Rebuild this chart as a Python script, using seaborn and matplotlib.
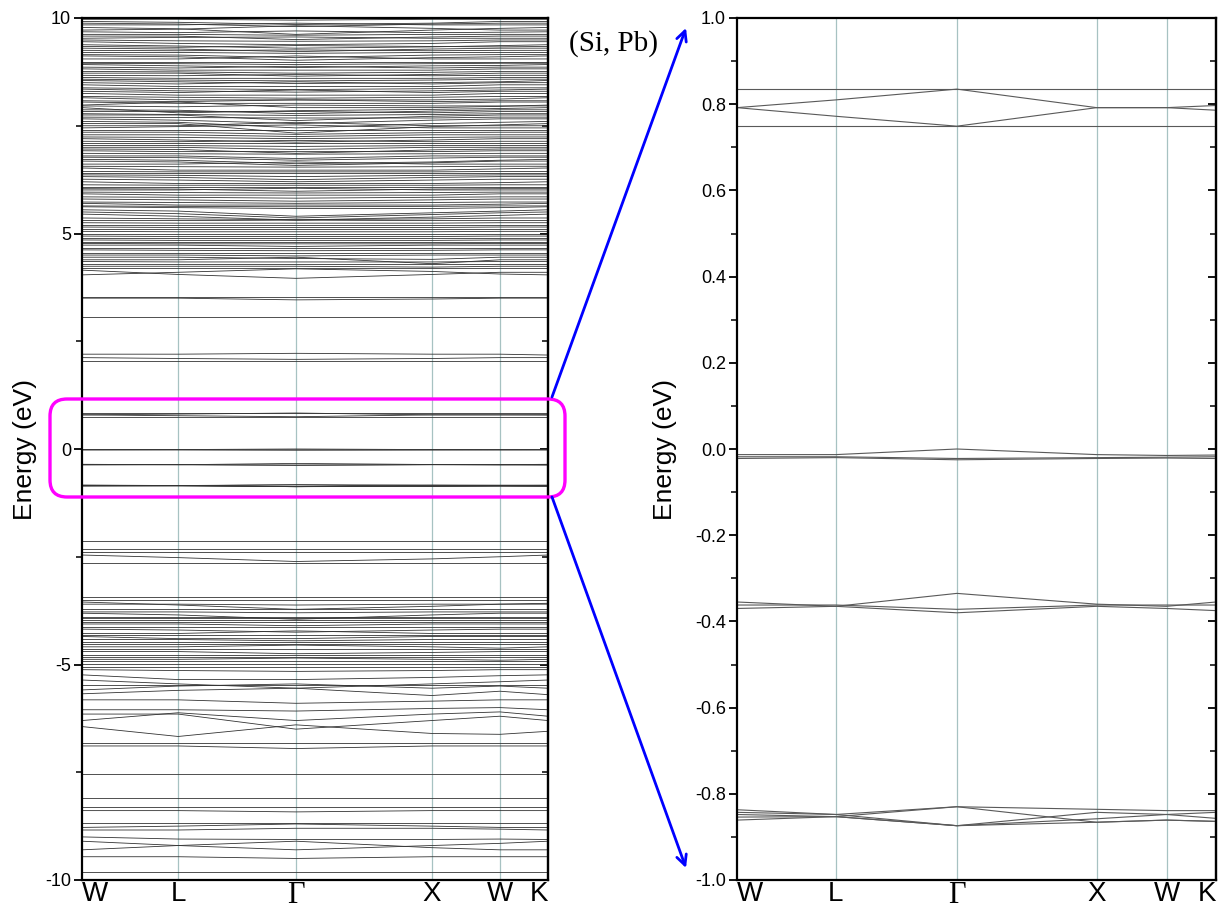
import numpy as np
import pandas as pd
import matplotlib
matplotlib.use("Agg")
import matplotlib.pyplot as plt
import seaborn as sns
from matplotlib.patches import FancyBboxPatch, FancyArrowPatch
from matplotlib.ticker import MultipleLocator

# ---------------- data ----------------
kpoint_labels = ["W", "L", "\u0393", "X", "W", "K"]
kpoint_pos = [0.0, 0.707, 1.573, 2.573, 3.073, 3.427]

# band energies (eV) at W, L, Gamma, X, W, K  -- full range panel
bands_upper = [
    [9.97, 9.97, 9.95, 9.97, 9.97, 9.97],
    [9.92, 9.90, 9.85, 9.88, 9.92, 9.92],
    [9.84, 9.84, 9.88, 9.84, 9.84, 9.84],
    [9.78, 9.75, 9.62, 9.72, 9.76, 9.78],
    [9.72, 9.74, 9.82, 9.76, 9.72, 9.72],
    [9.62, 9.62, 9.60, 9.62, 9.62, 9.62],
    [9.53, 9.55, 9.56, 9.53, 9.53, 9.53],
    [9.45, 9.41, 9.38, 9.41, 9.45, 9.45],
    [9.38, 9.35, 9.30, 9.33, 9.36, 9.38],
    [9.30, 9.28, 9.22, 9.28, 9.30, 9.30],
    [9.20, 9.20, 9.18, 9.20, 9.20, 9.20],
    [9.12, 9.10, 9.02, 9.08, 9.10, 9.12],
    [9.05, 9.05, 9.12, 9.05, 9.05, 9.05],
    [8.99, 8.99, 8.99, 8.99, 8.99, 8.99],
    [8.92, 8.89, 8.85, 8.89, 8.90, 8.92],
    [8.82, 8.79, 8.79, 8.79, 8.82, 8.82],
    [8.72, 8.72, 8.65, 8.69, 8.72, 8.72],
    [8.62, 8.60, 8.60, 8.60, 8.62, 8.62],
    [8.55, 8.52, 8.48, 8.50, 8.52, 8.55],
    [8.45, 8.41, 8.41, 8.41, 8.45, 8.45],
    [8.35, 8.31, 8.28, 8.31, 8.33, 8.35],
    [8.25, 8.21, 8.21, 8.21, 8.25, 8.25],
    [8.15, 8.10, 8.10, 8.10, 8.12, 8.15],
    [8.05, 8.02, 8.02, 8.02, 8.05, 8.05],
    [7.98, 8.05, 7.92, 7.92, 7.95, 7.98],
    [7.92, 7.80, 7.85, 7.88, 7.90, 7.92],
    [7.83, 7.83, 7.83, 7.80, 7.83, 7.83],
    [7.75, 7.75, 7.62, 7.72, 7.75, 7.75],
    [7.66, 7.63, 7.55, 7.63, 7.66, 7.66],
    [7.55, 7.55, 7.33, 7.48, 7.52, 7.55],
    [7.45, 7.48, 7.52, 7.45, 7.45, 7.45],
    [7.40, 7.40, 7.40, 7.40, 7.40, 7.40],
    [7.29, 7.29, 7.25, 7.29, 7.29, 7.29],
    [7.20, 7.17, 7.12, 7.17, 7.20, 7.20],
    [7.09, 7.09, 7.09, 7.09, 7.09, 7.09],
    [7.00, 7.00, 6.95, 7.00, 7.00, 7.00],
    [6.92, 6.90, 6.90, 6.90, 6.92, 6.92],
    [6.80, 6.80, 6.74, 6.80, 6.80, 6.80],
    [6.72, 6.70, 6.62, 6.66, 6.70, 6.72],
    [6.61, 6.61, 6.66, 6.61, 6.61, 6.61],
    [6.52, 6.47, 6.47, 6.47, 6.50, 6.52],
    [6.40, 6.40, 6.40, 6.40, 6.40, 6.40],
    [6.32, 6.30, 6.25, 6.30, 6.32, 6.32],
    [6.20, 6.16, 6.16, 6.16, 6.18, 6.20],
    [6.09, 6.09, 6.09, 6.09, 6.09, 6.09],
    [6.01, 6.01, 6.05, 6.01, 6.01, 6.01],
    [5.92, 5.89, 5.89, 5.89, 5.92, 5.92],
    [5.80, 5.78, 5.75, 5.78, 5.80, 5.80],
    [5.70, 5.66, 5.66, 5.66, 5.68, 5.70],
    [5.62, 5.60, 5.58, 5.58, 5.60, 5.62],
    [5.55, 5.52, 5.40, 5.48, 5.52, 5.55],
    [5.45, 5.40, 5.31, 5.38, 5.42, 5.45],
    [5.30, 5.30, 5.31, 5.30, 5.30, 5.30],
    [5.20, 5.20, 5.20, 5.20, 5.20, 5.20],
    [5.10, 5.10, 5.10, 5.10, 5.10, 5.10],
    [4.99, 4.99, 4.99, 4.99, 4.99, 4.99],
    [4.89, 4.89, 4.89, 4.89, 4.89, 4.89],
    [4.81, 4.81, 4.81, 4.81, 4.81, 4.81],
    [4.73, 4.73, 4.70, 4.73, 4.73, 4.73],
    [4.66, 4.66, 4.66, 4.66, 4.66, 4.66],
    [4.54, 4.54, 4.54, 4.54, 4.54, 4.54],
    [4.45, 4.45, 4.42, 4.40, 4.45, 4.45],
    [4.39, 4.39, 4.45, 4.30, 4.39, 4.39],
    [4.29, 4.29, 4.29, 4.29, 4.29, 4.29],
    [4.19, 4.19, 4.19, 4.19, 4.19, 4.19],
    [4.15, 4.05, 3.96, 4.05, 4.10, 4.10],
    [4.04, 4.10, 4.18, 4.12, 4.06, 4.04],
    [3.53, 3.53, 3.53, 3.53, 3.53, 3.53],
    [3.50, 3.50, 3.46, 3.48, 3.50, 3.50],
    [3.07, 3.07, 3.07, 3.07, 3.07, 3.07],
    [2.20, 2.20, 2.22, 2.20, 2.20, 2.18],
    [2.12, 2.10, 2.08, 2.10, 2.12, 2.12],
    [2.05, 2.05, 2.05, 2.05, 2.05, 2.05],
]

# additional bands filling the dense conduction region
bands_upper_fill = [
    [9.88, 9.86, 9.80, 9.86, 9.88, 9.88],
    [9.68, 9.66, 9.70, 9.66, 9.67, 9.68],
    [9.58, 9.58, 9.50, 9.56, 9.58, 9.58],
    [9.49, 9.47, 9.46, 9.47, 9.49, 9.49],
    [9.34, 9.32, 9.36, 9.34, 9.33, 9.34],
    [9.25, 9.24, 9.26, 9.24, 9.25, 9.25],
    [9.15, 9.14, 9.08, 9.14, 9.15, 9.15],
    [8.95, 8.94, 8.92, 8.94, 8.95, 8.95],
    [8.86, 8.84, 8.88, 8.84, 8.86, 8.86],
    [8.76, 8.75, 8.72, 8.74, 8.76, 8.76],
    [8.67, 8.66, 8.69, 8.66, 8.67, 8.67],
    [8.58, 8.56, 8.54, 8.56, 8.58, 8.58],
    [8.50, 8.47, 8.52, 8.47, 8.50, 8.50],
    [8.38, 8.36, 8.34, 8.36, 8.38, 8.38],
    [8.30, 8.27, 8.33, 8.27, 8.30, 8.30],
    [8.18, 8.16, 8.14, 8.16, 8.18, 8.18],
    [8.08, 8.06, 8.10, 8.06, 8.08, 8.08],
    [7.96, 7.94, 7.98, 7.96, 7.96, 7.96],
    [7.87, 7.86, 7.78, 7.84, 7.87, 7.87],
    [7.78, 7.76, 7.74, 7.76, 7.78, 7.78],
    [7.70, 7.69, 7.68, 7.68, 7.70, 7.70],
    [7.60, 7.58, 7.45, 7.55, 7.58, 7.60],
    [7.50, 7.50, 7.58, 7.50, 7.50, 7.50],
    [7.35, 7.35, 7.30, 7.34, 7.35, 7.35],
    [7.24, 7.23, 7.20, 7.23, 7.24, 7.24],
    [7.14, 7.13, 7.16, 7.13, 7.14, 7.14],
    [7.04, 7.04, 7.02, 7.04, 7.04, 7.04],
    [6.96, 6.95, 6.86, 6.94, 6.96, 6.96],
    [6.86, 6.85, 6.84, 6.85, 6.86, 6.86],
    [6.77, 6.76, 6.70, 6.75, 6.77, 6.77],
    [6.68, 6.66, 6.58, 6.64, 6.68, 6.68],
    [6.56, 6.55, 6.54, 6.55, 6.56, 6.56],
    [6.44, 6.43, 6.43, 6.43, 6.44, 6.44],
    [6.36, 6.35, 6.32, 6.35, 6.36, 6.36],
    [6.26, 6.24, 6.20, 6.24, 6.26, 6.26],
    [6.13, 6.12, 6.12, 6.12, 6.13, 6.13],
    [6.04, 6.03, 5.98, 6.03, 6.04, 6.04],
    [5.96, 5.95, 5.94, 5.95, 5.96, 5.96],
    [5.85, 5.84, 5.82, 5.84, 5.85, 5.85],
    [5.73, 5.72, 5.70, 5.72, 5.73, 5.73],
    [5.64, 5.63, 5.62, 5.63, 5.64, 5.64],
    [5.50, 5.46, 5.36, 5.44, 5.48, 5.50],
    [5.36, 5.34, 5.32, 5.34, 5.36, 5.36],
    [5.25, 5.24, 5.24, 5.24, 5.25, 5.25],
    [5.15, 5.14, 5.14, 5.14, 5.15, 5.15],
    [5.05, 5.04, 5.04, 5.04, 5.05, 5.05],
    [4.94, 4.93, 4.93, 4.93, 4.94, 4.94],
    [4.85, 4.84, 4.84, 4.84, 4.85, 4.85],
    [4.77, 4.76, 4.76, 4.76, 4.77, 4.77],
    [4.62, 4.61, 4.60, 4.61, 4.62, 4.62],
    [4.50, 4.50, 4.48, 4.50, 4.50, 4.50],
    [4.35, 4.34, 4.34, 4.34, 4.35, 4.35],
    [4.24, 4.24, 4.24, 4.22, 4.24, 4.24],
]

bands_lower = [
    [-2.13, -2.13, -2.13, -2.13, -2.13, -2.13],
    [-2.33, -2.33, -2.33, -2.33, -2.33, -2.33],
    [-2.38, -2.38, -2.38, -2.38, -2.38, -2.38],
    [-2.46, -2.52, -2.61, -2.55, -2.50, -2.46],
    [-2.64, -2.64, -2.64, -2.64, -2.64, -2.64],
    [-3.43, -3.43, -3.43, -3.43, -3.43, -3.43],
    [-3.50, -3.50, -3.50, -3.50, -3.50, -3.50],
    [-3.55, -3.62, -3.72, -3.65, -3.60, -3.58],
    [-3.60, -3.60, -3.62, -3.60, -3.60, -3.60],
    [-3.72, -3.72, -3.72, -3.72, -3.72, -3.72],
    [-3.78, -3.78, -3.80, -3.78, -3.78, -3.78],
    [-3.81, -3.85, -3.95, -3.85, -3.81, -3.81],
    [-3.89, -3.89, -3.89, -3.89, -3.89, -3.89],
    [-3.93, -3.93, -3.93, -3.93, -3.93, -3.93],
    [-3.97, -3.97, -3.97, -3.97, -3.97, -3.97],
    [-4.02, -4.02, -4.02, -4.02, -4.02, -4.02],
    [-4.06, -4.06, -4.10, -4.06, -4.06, -4.06],
    [-4.14, -4.14, -4.14, -4.14, -4.14, -4.14],
    [-4.18, -4.20, -4.25, -4.20, -4.18, -4.18],
    [-4.28, -4.28, -4.22, -4.28, -4.28, -4.28],
    [-4.32, -4.32, -4.32, -4.32, -4.32, -4.32],
    [-4.35, -4.40, -4.40, -4.35, -4.35, -4.35],
    [-4.42, -4.42, -4.45, -4.42, -4.42, -4.42],
    [-4.47, -4.47, -4.47, -4.47, -4.47, -4.47],
    [-4.52, -4.52, -4.52, -4.52, -4.52, -4.52],
    [-4.59, -4.59, -4.55, -4.59, -4.62, -4.59],
    [-4.65, -4.65, -4.65, -4.65, -4.65, -4.65],
    [-4.70, -4.70, -4.75, -4.72, -4.70, -4.70],
    [-4.78, -4.78, -4.78, -4.78, -4.78, -4.78],
    [-4.83, -4.83, -4.83, -4.83, -4.83, -4.83],
    [-4.88, -4.88, -4.85, -4.88, -4.90, -4.88],
    [-4.93, -4.93, -4.93, -4.93, -4.93, -4.93],
    [-4.98, -4.98, -4.98, -4.98, -4.98, -4.98],
    [-5.05, -5.05, -5.05, -5.05, -5.05, -5.05],
    [-5.12, -5.14, -5.16, -5.14, -5.12, -5.12],
    [-5.24, -5.35, -5.35, -5.30, -5.26, -5.24],
    [-5.36, -5.45, -5.55, -5.45, -5.40, -5.36],
    [-5.48, -5.48, -5.48, -5.48, -5.48, -5.48],
    [-5.59, -5.50, -5.45, -5.55, -5.50, -5.55],
    [-5.68, -5.60, -5.55, -5.72, -5.62, -5.70],
    [-5.82, -5.82, -5.90, -5.85, -5.82, -5.82],
    [-6.05, -6.05, -6.08, -6.02, -6.00, -6.05],
    [-6.15, -6.15, -6.50, -6.30, -6.20, -6.30],
    [-6.30, -6.12, -6.30, -6.15, -6.10, -6.20],
    [-6.44, -6.67, -6.40, -6.60, -6.62, -6.55],
    [-6.81, -6.81, -6.81, -6.81, -6.81, -6.81],
    [-6.89, -6.89, -6.95, -6.89, -6.89, -6.89],
    [-7.53, -7.53, -7.53, -7.53, -7.53, -7.53],
    [-8.10, -8.10, -8.10, -8.10, -8.10, -8.10],
    [-8.30, -8.30, -8.30, -8.30, -8.30, -8.30],
    [-8.39, -8.39, -8.42, -8.39, -8.39, -8.39],
    [-8.67, -8.67, -8.67, -8.67, -8.67, -8.67],
    [-8.78, -8.75, -8.70, -8.75, -8.78, -8.78],
    [-8.84, -8.84, -8.80, -8.80, -8.82, -8.84],
    [-9.00, -9.05, -9.06, -9.06, -9.05, -9.06],
    [-9.10, -9.20, -9.30, -9.20, -9.15, -9.10],
    [-9.30, -9.20, -9.10, -9.25, -9.30, -9.30],
    [-9.46, -9.46, -9.50, -9.46, -9.46, -9.46],
    [-9.81, -9.81, -9.81, -9.81, -9.81, -9.81],
]

# gap (impurity) bands, shown in both panels
bands_gap = [
    [0.835, 0.835, 0.835, 0.835, 0.835, 0.835],
    [0.792, 0.810, 0.835, 0.792, 0.792, 0.797],
    [0.792, 0.772, 0.749, 0.792, 0.792, 0.786],
    [0.749, 0.749, 0.749, 0.749, 0.749, 0.749],
    [-0.013, -0.013, 0.000, -0.013, -0.015, -0.014],
    [-0.018, -0.018, -0.022, -0.020, -0.019, -0.018],
    [-0.022, -0.020, -0.025, -0.022, -0.021, -0.022],
    [-0.355, -0.365, -0.335, -0.360, -0.365, -0.355],
    [-0.370, -0.365, -0.380, -0.365, -0.370, -0.375],
    [-0.362, -0.362, -0.372, -0.362, -0.362, -0.362],
    [-0.837, -0.848, -0.830, -0.836, -0.839, -0.839],
    [-0.843, -0.848, -0.874, -0.843, -0.848, -0.843],
    [-0.848, -0.853, -0.874, -0.858, -0.848, -0.857],
    [-0.854, -0.853, -0.830, -0.866, -0.861, -0.864],
    [-0.861, -0.853, -0.874, -0.866, -0.861, -0.864],
]

left_yticks = [-10, -5, 0, 5, 10]
right_yticks = [-1.0, -0.8, -0.6, -0.4, -0.2, 0.0, 0.2, 0.4, 0.6, 0.8, 1.0]


def to_frame(band_list):
    rows = []
    for b, vals in enumerate(band_list):
        for k, e in zip(kpoint_pos, vals):
            rows.append((b, k, e))
    return pd.DataFrame(rows, columns=["band", "k", "E"])


# ---------------- style ----------------
sns.set_theme(style="white")
plt.rcParams["font.family"] = ["Liberation Sans", "DejaVu Sans"]
plt.rcParams["axes.linewidth"] = 1.6
plt.rcParams["text.color"] = "black"
plt.rcParams["axes.labelcolor"] = "black"
plt.rcParams["xtick.color"] = "black"
plt.rcParams["ytick.color"] = "black"

fig = plt.figure(figsize=(12.21, 9.14), dpi=100)
axL = fig.add_axes([82 / 1221, 34 / 914, 466 / 1221, 862 / 914])
axR = fig.add_axes([737 / 1221, 34 / 914, 479 / 1221, 862 / 914])

df_left = to_frame(bands_upper + bands_upper_fill + bands_gap + bands_lower)
sns.lineplot(data=df_left, x="k", y="E", units="band", ax=axL, estimator=None,
             color="0.2", linewidth=0.6, legend=False)
df_right = to_frame(bands_gap)
sns.lineplot(data=df_right, x="k", y="E", units="band", ax=axR, estimator=None,
             color="0.35", linewidth=0.8, legend=False)


def style_axes(ax, ylim, yticks, minor, fmt):
    ax.set_xlim(kpoint_pos[0], kpoint_pos[-1])
    ax.set_ylim(*ylim)
    for kp in kpoint_pos[1:-1]:
        ax.axvline(kp, color="#a7c2c2", lw=0.9, zorder=0)
    ax.set_xticks(kpoint_pos)
    ax.set_xticklabels(kpoint_labels, fontsize=20)
    labels = ax.get_xticklabels()
    for t in labels:
        if t.get_text() == "\u0393":
            t.set_fontfamily(["Liberation Serif", "DejaVu Serif"])
            t.set_fontsize(22)
    labels[0].set_horizontalalignment("left")
    labels[-1].set_horizontalalignment("right")
    ax.tick_params(axis="x", length=0, pad=1)
    ax.set_yticks(yticks)
    ax.set_yticklabels([fmt(v) for v in yticks], fontsize=13)
    ax.yaxis.set_minor_locator(MultipleLocator(minor))
    ax.tick_params(axis="y", which="major", direction="out", length=6, width=1.3,
                   left=True, right=False, pad=2)
    ax.tick_params(axis="y", which="minor", direction="out", length=4, width=1.1,
                   left=True, right=False)
    sec = ax.secondary_yaxis("right")
    sec.set_yticks(yticks)
    sec.yaxis.set_minor_locator(MultipleLocator(minor))
    sec.tick_params(axis="y", which="major", direction="in", length=6, width=1.3, labelright=False)
    sec.tick_params(axis="y", which="minor", direction="in", length=4, width=1.1, labelright=False)
    for s in ax.spines.values():
        s.set_color("black")
        s.set_linewidth(1.6)
    ax.set_xlabel("")
    ax.set_ylabel("Energy (eV)", fontsize=19)


style_axes(axL, (-10, 10), left_yticks, 2.5, lambda v: f"{v:d}")
style_axes(axR, (-1.0, 1.0), right_yticks, 0.1, lambda v: f"{v:.1f}")
axL.yaxis.set_label_coords((37 - 82) / 466, 0.5)
axR.yaxis.set_label_coords((677 - 737) / 479, 0.5)

# ---------------- annotations ----------------
tr = fig.dpi_scale_trans
H = 9.14
box = FancyBboxPatch((0.50, H - 4.97), 5.15, 0.98,
                     boxstyle="round,pad=0,rounding_size=0.17",
                     transform=tr, fill=False, edgecolor="#ff00ff", lw=2.4, zorder=10)
fig.patches.append(box)

arrow_kw = dict(transform=tr, arrowstyle="->,head_length=0.6,head_width=0.3",
                color="#0000ff", lw=2.0, mutation_scale=12, zorder=10,
                shrinkA=0, shrinkB=0)
fig.patches.append(FancyArrowPatch((5.52, H - 3.97), (6.86, H - 0.28), **arrow_kw))
fig.patches.append(FancyArrowPatch((5.52, H - 4.97), (6.86, H - 8.68), **arrow_kw))

fig.text(6.14 / 12.21, (H - 0.44) / H, "(Si, Pb)", fontsize=21,
         family=["Liberation Serif", "DejaVu Serif"], ha="center", va="center")

fig.savefig("out.png", dpi=100)
